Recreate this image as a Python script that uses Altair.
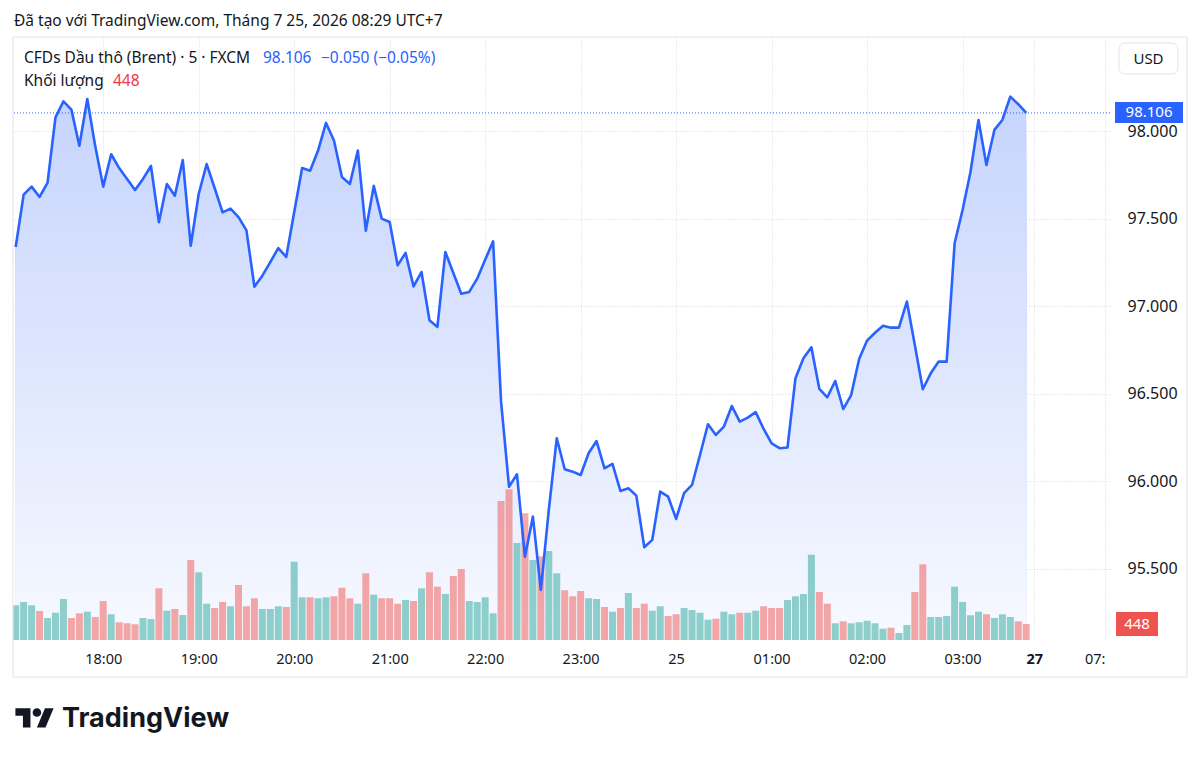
import altair as alt
import pandas as pd

# ---------------- data ----------------
START_MIN = 5     # first bar 17:05 (minutes after 17:00)
STEP_MIN = 5      # 5-minute bars

prices = [97.34, 97.639, 97.685, 97.626, 97.706, 98.081, 98.172, 98.125, 97.919, 98.186,
          97.915, 97.685, 97.870, 97.791, 97.729, 97.666, 97.729, 97.803, 97.481, 97.700,
          97.633, 97.837, 97.347, 97.643, 97.814, 97.677, 97.538, 97.559, 97.511, 97.435,
          97.113, 97.176, 97.254, 97.334, 97.283, 97.538, 97.791, 97.776, 97.891, 98.049,
          97.948, 97.740, 97.700, 97.891, 97.433, 97.689, 97.502, 97.483, 97.235, 97.306,
          97.115, 97.197, 96.921, 96.883, 97.311, 97.191, 97.073, 97.083, 97.159, 97.267,
          97.372, 96.456, 95.970, 96.041, 95.570, 95.799, 95.380, 95.837, 96.247, 96.070,
          96.056, 96.037, 96.161, 96.231, 96.075, 96.100, 95.946, 95.961, 95.919, 95.624,
          95.666, 95.942, 95.913, 95.786, 95.933, 95.980, 96.151, 96.327, 96.266, 96.313,
          96.431, 96.342, 96.365, 96.396, 96.300, 96.218, 96.190, 96.194, 96.590, 96.704,
          96.767, 96.529, 96.481, 96.574, 96.414, 96.494, 96.700, 96.805, 96.850, 96.890,
          96.879, 96.879, 97.028, 96.780, 96.527, 96.618, 96.685, 96.685, 97.361, 97.551,
          97.770, 98.066, 97.809, 98.009, 98.066, 98.199, 98.156, 98.106]

volumes = [972, 1064, 972, 812, 616, 764, 1148, 616, 748, 792,
           644, 1092, 720, 496, 468, 440, 616, 588, 1448, 820,
           868, 700, 2240, 1896, 1016, 896, 1064, 944, 1540, 944,
           1168, 868, 868, 944, 924, 2192, 1196, 1196, 1168, 1196,
           1224, 1464, 1168, 1016, 1868, 1268, 1168, 1168, 1016, 1120,
           1092, 1448, 1896, 1492, 1288, 1792, 1988, 1092, 1064, 1196,
           748, 3892, 4220, 2716, 3548, 2240, 2344, 2492, 1868, 1392,
           1224, 1372, 1168, 1148, 924, 792, 896, 1316, 896, 1016,
           820, 944, 672, 720, 896, 840, 764, 568, 596, 792,
           720, 764, 764, 820, 944, 896, 896, 1120, 1224, 1288,
           2388, 1344, 1016, 468, 524, 468, 496, 540, 468, 316,
           344, 196, 420, 1344, 2120, 644, 644, 672, 1492, 1064,
           692, 792, 720, 616, 720, 644, 524, 448]

# t = up (teal), r = down (red)
directions = ("tttrtttrrt" "rrtrrrttrt" "rtrttrrtrr" "rtttrttrtt" "rrrtrtrrrt"
              "rtrrtrrttt" "trrtrtrttr" "rrttrtrtrr" "ttrrttttrt" "trttrrrttt"
              "trrtrttttt" "rttrrttttt" "ttrtttrr")

tick_vals = [60, 120, 180, 240, 300, 360, 420, 480, 540, 600, 645, 689.5]
tick_text = ["18:00", "19:00", "20:00", "21:00", "22:00", "23:00", "25",
             "01:00", "02:00", "03:00", "27", "07:"]
price_ticks = [95.5, 96.0, 96.5, 97.0, 97.5, 98.0]

last_price = 98.106
last_volume = 448

df = pd.DataFrame({
    "t": [START_MIN + STEP_MIN * i for i in range(len(prices))],
    "price": prices,
    "vol": volumes,
    "dir": ["up" if c == "t" else "down" for c in directions],
})

# ---------------- styling ----------------
FONT = "Noto Sans"
TXT = "#131722"
BLUE = "#2962ff"
RED = "#f23645"
GRID = "#d6d9e0"
W, H = 1097, 603
HS = 15.5   # header text size
Y_MIN, Y_MAX = 95.094, 98.54

label_expr = "".join(f"datum.value == {v} ? '{s}' : " for v, s in zip(tick_vals, tick_text)) + "''"

x_enc = alt.X(
    "t:Q",
    scale=alt.Scale(domain=[6.45, 689.5], nice=False, zero=False),
    axis=alt.Axis(
        values=tick_vals, labelExpr=label_expr, title=None,
        grid=True, gridColor=GRID, gridDash=[1, 2], gridWidth=1,
        domain=False, ticks=False, labelPadding=19, labelBaseline="middle",
        labelFont=FONT, labelFontSize=14.5, labelColor=TXT,
        labelFlush=False, labelOverlap=False,
        labelAlign={"condition": {"test": "datum.value > 680", "value": "right"}, "value": "center"},
        labelFontWeight={"condition": {"test": "datum.value == 645", "value": "bold"}, "value": "normal"},
    ),
)

price_scale = alt.Scale(domain=[Y_MIN, Y_MAX], nice=False, zero=False)

price_axis = alt.Axis(
    orient="right", values=price_ticks, format=".3f", title=None,
    grid=True, gridColor=GRID, gridDash=[1, 2], gridWidth=1,
    domain=False, ticks=False, labelPadding=17,
    labelFont=FONT, labelFontSize=16, labelColor=TXT, labelFlush=False,
)
y_price_noaxis = alt.Y("price:Q", scale=price_scale, axis=None)

base = alt.Chart(df)

# vertical colour fade under the line, built as stacked bands (top colour -> bottom colour)
N_BANDS = 40
FADE_TOP = 98.2
top_rgb = (198, 212, 253)
bot_rgb = (247, 249, 255)
area_layers = []
for k in reversed(range(N_BANDS)):
    upper = Y_MAX + 1 if k == N_BANDS - 1 else Y_MIN + (FADE_TOP - Y_MIN) * (k + 1) / N_BANDS
    f = (k + 0.5) / N_BANDS
    rgb = tuple(round(b + (t - b) * f) for t, b in zip(top_rgb, bot_rgb))
    col = "#%02x%02x%02x" % rgb
    area_layers.append(
        base.transform_calculate(yk=f"min(datum.price, {upper})")
        .mark_area(clip=True, color=col, opacity=1, strokeWidth=0)
        .encode(
            x=x_enc,
            y=alt.Y("yk:Q", scale=price_scale, axis=price_axis if k == N_BANDS - 1 else None),
            y2=alt.value(H),
        )
    )

bars = base.mark_bar(size=7, clip=True, opacity=0.5).encode(
    x=x_enc,
    y=alt.Y("vol:Q", scale=alt.Scale(domain=[0, 16884], nice=False), axis=None),
    color=alt.Color("dir:N", scale=alt.Scale(domain=["up", "down"], range=["#26a69a", "#ef5350"]), legend=None),
)

line = base.mark_line(clip=True, color=BLUE, strokeWidth=2.6, strokeJoin="round").encode(
    x=x_enc, y=y_price_noaxis
)

price_line = alt.Chart(pd.DataFrame({"price": [last_price]})).mark_rule(
    color=BLUE, strokeDash=[1, 2], strokeWidth=1
).encode(y=y_price_noaxis)


def txt(s, x, y, size=HS, color=TXT, align="left", weight="normal", font=FONT, baseline="middle"):
    return alt.Chart(pd.DataFrame({"s": [s]})).mark_text(
        align=align, baseline=baseline, font=font, fontSize=size, color=color, fontWeight=weight
    ).encode(text="s:N", x=alt.value(x), y=alt.value(y))


def box(x, x2, y, y2, fill, stroke=None, radius=0):
    kw = dict(color=fill, cornerRadius=radius)
    if stroke:
        kw.update(stroke=stroke, strokeWidth=1)
    return alt.Chart(pd.DataFrame({"a": [0]})).mark_rect(**kw).encode(
        x=alt.value(x), x2=alt.value(x2), y=alt.value(y), y2=alt.value(y2)
    )


frame = alt.Chart(pd.DataFrame({"a": [0]})).mark_rect(
    fillOpacity=0, stroke="#e0e3eb", strokeWidth=1
).encode(x=alt.value(0), x2=alt.value(1174), y=alt.value(0), y2=alt.value(640))

# TradingView logo glyph (T, dot, slash) as a custom symbol path
logo_path = ("M -0.208 0.5 L -0.597 0.5 L -0.597 -0.111 L -0.986 -0.111 L -0.986 -0.5 L -0.208 -0.5 Z "
             "M 0.569 0.5 L 0.125 0.5 L 0.542 -0.5 L 0.986 -0.5 Z "
             "M -0.097 -0.278 A 0.222 0.222 0 1 0 0.347 -0.278 A 0.222 0.222 0 1 0 -0.097 -0.278 Z")
logo = alt.Chart(pd.DataFrame({"a": [0]})).mark_point(
    shape=logo_path, size=1500, filled=True, color=TXT, opacity=1, strokeWidth=0
).encode(x=alt.value(21.5), y=alt.value(680.9))

layers = area_layers + [
    bars, line, price_line, frame,
    txt("Đã tạo với TradingView.com, Tháng 7 25, 2026 08:29 UTC+7", 1, -16.5),
    txt("CFDs Dầu thô (Brent) · 5 · FXCM", 11, 21.3),
    txt(f"{last_price:.3f}", 250, 21.3, color=BLUE),
    txt("−0.050 (−0.05%)", 308, 21.3, color=BLUE),
    txt("Khối lượng", 11, 43.7),
    txt(str(last_volume), 100, 43.7, color=RED),
    box(1106, 1165, 6, 37, "#ffffff", stroke="#e0e3eb", radius=6),
    txt("USD", 1135.5, 21.5, size=15, align="center"),
    box(1102, 1170, 65, 86, BLUE),
    txt(f"{last_price:.3f}", 1136, 75, size=15, color="#ffffff", align="center"),
    box(1103, 1145, 575, 599, "#ef5350"),
    txt(str(last_volume), 1124, 587, size=15, color="#ffffff", align="center"),
    logo,
    txt("TradingView", 49, 690, size=27, weight="bold", font="Inter", baseline="alphabetic"),
]

chart = alt.layer(*layers).resolve_scale(y="independent").properties(
    width=W, height=H,
    padding={"left": 13, "top": 37, "right": 90, "bottom": 118},
    autosize=alt.AutoSizeParams(type="none"),
    background="#ffffff",
).configure_view(strokeWidth=0)

chart.save("out.html", embed_options={"renderer": "svg", "actions": False})
